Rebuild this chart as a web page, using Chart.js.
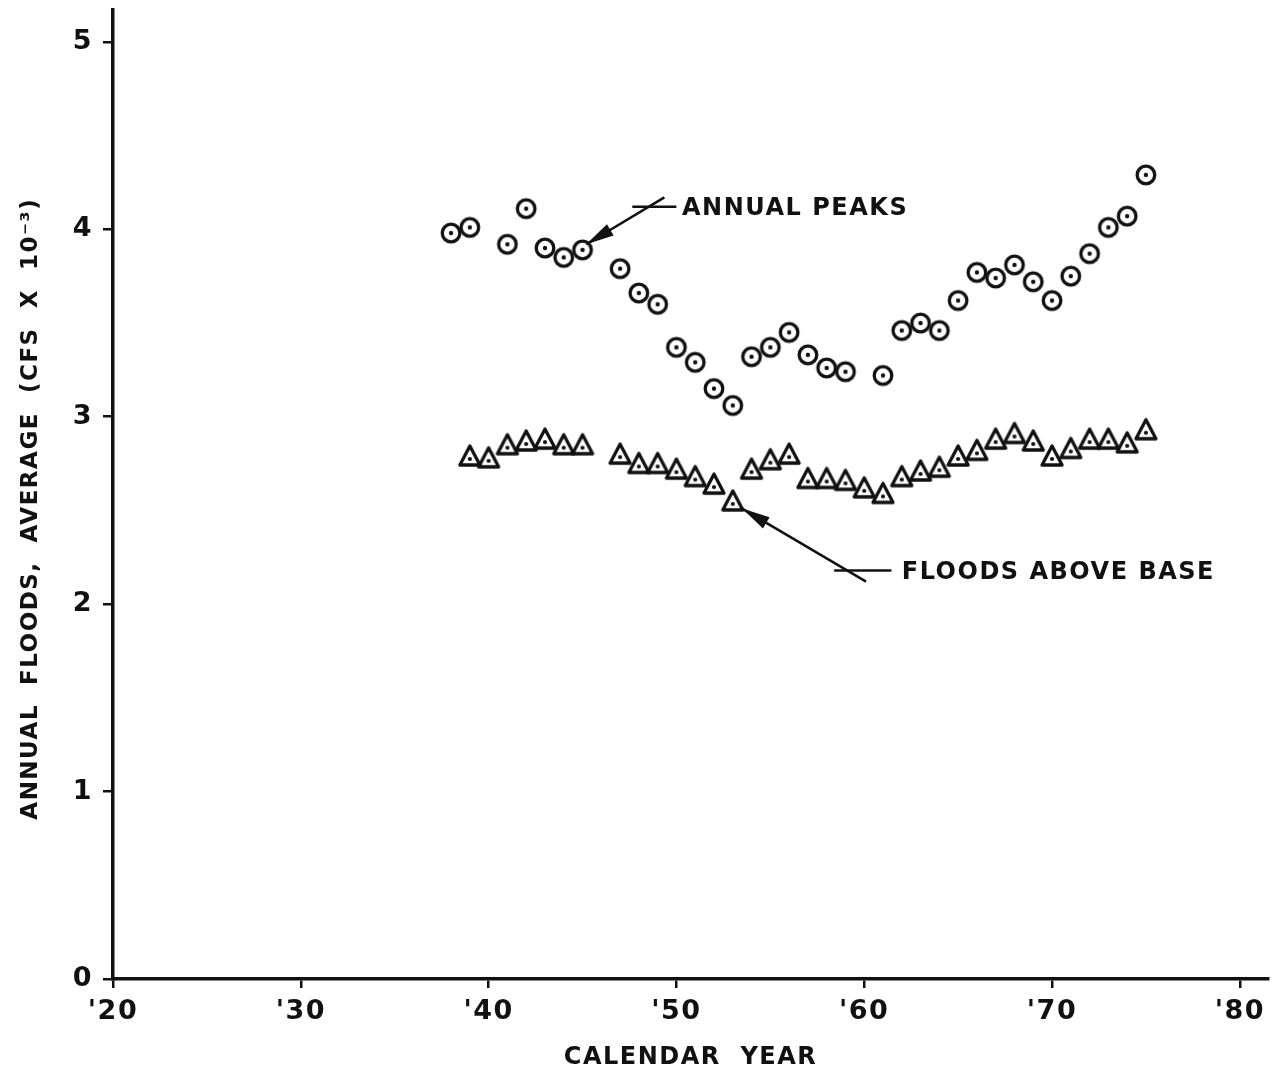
<!DOCTYPE html>
<html>
<head>
<meta charset="utf-8">
<script src="https://cdn.jsdelivr.net/npm/chart.js@4.4.1/dist/chart.umd.min.js"></script>
<style>
  html, body { margin: 0; padding: 0; background: #fff; }
  #wrap { width: 1281px; height: 1079px; position: relative; }
</style>
</head>
<body>
<div id="wrap"><canvas id="floodChart"></canvas></div>
<script>
// Annual peaks (circles), average in cfs x 10^-3
const peakYears = [1938, 1939, 1941, 1942, 1943, 1944, 1945, 1947, 1948, 1949, 1950, 1951, 1952,
    1953, 1954, 1955, 1956, 1957, 1958, 1959, 1961, 1962, 1963, 1964, 1965, 1966, 1967, 1968,
    1969, 1970, 1971, 1972, 1973, 1974, 1975];
const peakValues = [3.98, 4.01, 3.92, 4.11, 3.90, 3.85, 3.89, 3.79, 3.66, 3.60, 3.37, 3.29, 3.15,
    3.06, 3.32, 3.37, 3.45, 3.33, 3.26, 3.24, 3.22, 3.46, 3.50, 3.46, 3.62, 3.77, 3.74, 3.81,
    3.72, 3.62, 3.75, 3.87, 4.01, 4.07, 4.29];

// Floods above base (triangles)
const baseYears = [1939, 1940, 1941, 1942, 1943, 1944, 1945, 1947, 1948, 1949, 1950, 1951, 1952,
    1953, 1954, 1955, 1956, 1957, 1958, 1959, 1960, 1961, 1962, 1963, 1964, 1965, 1966, 1967,
    1968, 1969, 1970, 1971, 1972, 1973, 1974, 1975];
const baseValues = [2.78, 2.77, 2.84, 2.86, 2.87, 2.84, 2.84, 2.79, 2.74, 2.74, 2.71, 2.67, 2.63,
    2.54, 2.71, 2.76, 2.79, 2.66, 2.66, 2.65, 2.61, 2.58, 2.67, 2.70, 2.72, 2.78, 2.81, 2.87,
    2.90, 2.86, 2.78, 2.82, 2.87, 2.87, 2.85, 2.92];

const xTicks = [1920, 1930, 1940, 1950, 1960, 1970, 1980];
const yTicks = [0, 1, 2, 3, 4, 5];

const FONT = 'DejaVu Sans';
const INK = '#111';

// marker images: ring with a dot, triangle with a dot
function circleMarker() {
    const c = document.createElement('canvas');
    c.width = 28; c.height = 28;
    const g = c.getContext('2d');
    g.strokeStyle = INK; g.fillStyle = INK; g.lineWidth = 3.3;
    g.beginPath(); g.arc(14, 14, 8.8, 0, Math.PI * 2); g.stroke();
    g.beginPath(); g.arc(14, 14, 2.2, 0, Math.PI * 2); g.fill();
    return c;
}
function triangleMarker() {
    const c = document.createElement('canvas');
    c.width = 32; c.height = 32;
    const g = c.getContext('2d');
    g.strokeStyle = INK; g.fillStyle = INK; g.lineWidth = 3.3; g.lineJoin = 'round';
    g.beginPath();
    g.moveTo(16, 4); g.lineTo(26, 23); g.lineTo(6, 23); g.closePath();
    g.stroke();
    g.beginPath(); g.arc(16, 17, 2.1, 0, Math.PI * 2); g.fill();
    return c;
}

function toPoints(xs, ys) {
    return xs.map((x, i) => ({ x: x, y: ys[i] }));
}

// arrows and labels drawn over the plot, positioned in data units
const annotationPlugin = {
    id: 'notes',
    beforeDraw(chart) {
        chart.ctx.letterSpacing = '1.5px';
    },
    afterDatasetsDraw(chart) {
        const ctx = chart.ctx;
        const sx = chart.scales.x, sy = chart.scales.y;
        const px = v => sx.getPixelForValue(v);
        const py = v => sy.getPixelForValue(v);

        function arrow(tail, tip) {
            const x1 = px(tail[0]), y1 = py(tail[1]), x2 = px(tip[0]), y2 = py(tip[1]);
            const ang = Math.atan2(y2 - y1, x2 - x1);
            ctx.beginPath(); ctx.moveTo(x1, y1); ctx.lineTo(x2, y2); ctx.stroke();
            const len = 28, half = 6.5;
            const bx = x2 - Math.cos(ang) * len, by = y2 - Math.sin(ang) * len;
            ctx.beginPath();
            ctx.moveTo(x2, y2);
            ctx.lineTo(bx + Math.sin(ang) * half, by - Math.cos(ang) * half);
            ctx.lineTo(bx - Math.sin(ang) * half, by + Math.cos(ang) * half);
            ctx.closePath(); ctx.fill();
        }
        function leader(x0, x1, y) {
            ctx.beginPath(); ctx.moveTo(px(x0), py(y)); ctx.lineTo(px(x1), py(y)); ctx.stroke();
        }

        ctx.save();
        ctx.strokeStyle = INK; ctx.fillStyle = INK; ctx.lineWidth = 2.5;
        ctx.font = 'bold 24px "' + FONT + '"';
        ctx.letterSpacing = '1.5px';
        ctx.textBaseline = 'middle'; ctx.textAlign = 'left';

        arrow([1949.36, 4.17], [1945.2, 3.92]);
        leader(1947.65, 1950.0, 4.12);
        ctx.fillText('ANNUAL PEAKS', px(1950.3), py(4.11));

        arrow([1960.1, 2.12], [1953.5, 2.51]);
        leader(1958.4, 1961.45, 2.18);
        ctx.fillText('FLOODS ABOVE BASE', px(1962.0), py(2.17));
        ctx.restore();
    }
};

function initFloodChart() {
    const ctx = document.getElementById('floodChart').getContext('2d');
    new Chart(ctx, {
        type: 'scatter',
        data: {
            datasets: [{
                label: 'Annual peaks',
                data: toPoints(peakYears, peakValues),
                pointStyle: circleMarker(),
                showLine: false
            }, {
                label: 'Floods above base',
                data: toPoints(baseYears, baseValues),
                pointStyle: triangleMarker(),
                showLine: false
            }]
        },
        options: {
            responsive: true,
            maintainAspectRatio: false,
            animation: false,
            events: [],
            layout: { padding: { top: 10, right: 13, left: 0, bottom: 0 } },
            plugins: { legend: { display: false }, tooltip: { enabled: false } },
            scales: {
                x: {
                    type: 'linear',
                    min: 1920,
                    max: 1981.5,
                    afterFit: s => { s.height = 100; },
                    afterBuildTicks: s => { s.ticks = xTicks.map(v => ({ value: v })); },
                    border: { display: true, color: INK, width: 3.5 },
                    grid: { drawOnChartArea: false, drawTicks: true, tickLength: 9, color: INK, lineWidth: 2.5 },
                    ticks: {
                        color: INK,
                        padding: 8,
                        maxRotation: 0,
                        font: { family: FONT, size: 27, weight: 'bold' },
                        callback: v => "'" + String(v).slice(2)
                    },
                    title: {
                        display: true,
                        text: 'CALENDAR  YEAR',
                        color: INK,
                        font: { family: FONT, size: 24, weight: 'bold' },
                        padding: { top: 0, bottom: 7 }
                    }
                },
                y: {
                    min: 0,
                    max: 5.17,
                    afterFit: s => { s.width = 113; s.paddingTop = 0; s.paddingBottom = 0; },
                    afterBuildTicks: s => { s.ticks = yTicks.map(v => ({ value: v })); },
                    border: { display: true, color: INK, width: 3.5 },
                    grid: { drawOnChartArea: false, drawTicks: true, tickLength: 10, color: INK, lineWidth: 2.5 },
                    ticks: {
                        color: INK,
                        padding: 10,
                        font: { family: FONT, size: 27, weight: 'bold' }
                    },
                    title: {
                        display: true,
                        text: 'ANNUAL  FLOODS,  AVERAGE  (CFS  X  10\u207B\u00B3)   ',
                        color: INK,
                        font: { family: FONT, size: 23, weight: 'bold' },
                        padding: { top: 17, bottom: 0 }
                    }
                }
            }
        },
        plugins: [annotationPlugin]
    });
}

document.addEventListener('DOMContentLoaded', initFloodChart);
</script>
</body>
</html>
